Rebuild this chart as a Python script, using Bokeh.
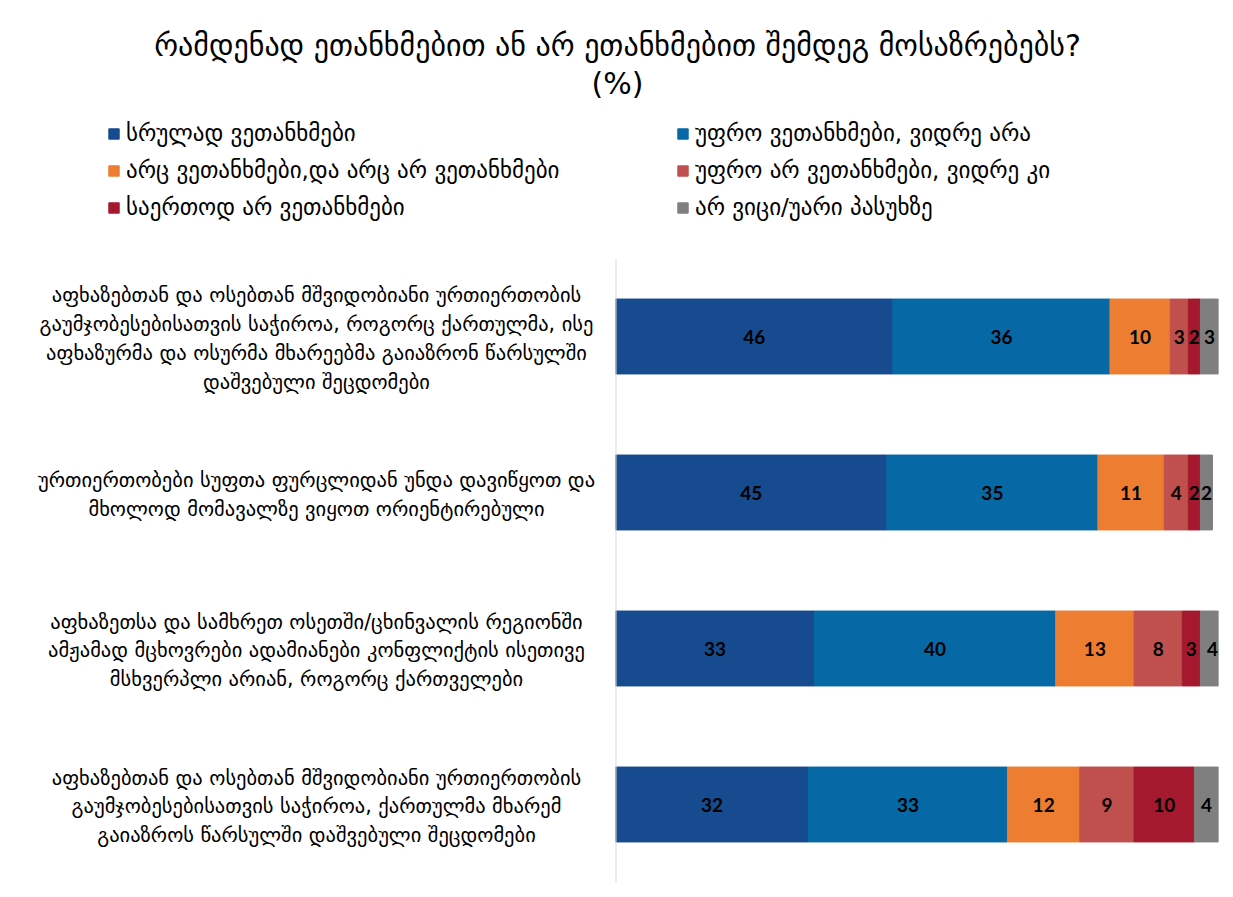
from bokeh.plotting import figure
from bokeh.models import ColumnDataSource, Legend, LegendItem, FactorRange, Range1d, Span
from bokeh.layouts import column, row
from bokeh.core.properties import value
from bokeh.embed import file_html
from bokeh.resources import INLINE
import numpy as np

title_lines = ["რამდენად ეთანხმებით ან არ ეთანხმებით შემდეგ მოსაზრებებს?", "(%)"]

categories = [
    "აფხაზებთან და ოსებთან მშვიდობიანი ურთიერთობის\nგაუმჯობესებისათვის საჭიროა, როგორც ქართულმა, ისე\nაფხაზურმა და ოსურმა მხარეებმა გაიაზრონ წარსულში\nდაშვებული შეცდომები",
    "ურთიერთობები სუფთა ფურცლიდან უნდა დავიწყოთ და\nმხოლოდ მომავალზე ვიყოთ ორიენტირებული",
    "აფხაზეთსა და სამხრეთ ოსეთში/ცხინვალის რეგიონში\nამჟამად მცხოვრები ადამიანები კონფლიქტის ისეთივე\nმსხვერპლი არიან, როგორც ქართველები",
    "აფხაზებთან და ოსებთან მშვიდობიანი ურთიერთობის\nგაუმჯობესებისათვის საჭიროა, ქართულმა მხარემ\nგაიაზროს წარსულში დაშვებული შეცდომები",
]

series_names = [
    "სრულად ვეთანხმები",
    "უფრო ვეთანხმები, ვიდრე არა",
    "არც ვეთანხმები,და არც არ ვეთანხმები",
    "უფრო არ ვეთანხმები, ვიდრე კი",
    "საერთოდ არ ვეთანხმები",
    "არ ვიცი/უარი პასუხზე",
]
colors = ["#174B8F", "#0669A5", "#ED7D31", "#C0504D", "#A5192E", "#7F7F7F"]

s1 = [46, 45, 33, 32]
s2 = [36, 35, 40, 33]
s3 = [10, 11, 13, 12]
s4 = [3, 4, 8, 9]
s5 = [2, 2, 3, 10]
s6 = [3, 2, 4, 4]
series = [s1, s2, s3, s4, s5, s6]
keys = ["s1", "s2", "s3", "s4", "s5", "s6"]

GEO = "DejaVu Sans"
TOTAL_W = 1230
HEAD_H = 258
LEFT_W = 615
BODY_H = 630


def clean(fig):
    fig.outline_line_color = None
    fig.xgrid.visible = False
    fig.ygrid.visible = False
    fig.xaxis.visible = False
    fig.yaxis.visible = False
    return fig


# ---------- bars ----------
data = {"cat": categories}
for k, s in zip(keys, series):
    data[k] = s
src = ColumnDataSource(data)

yr = FactorRange(factors=categories[::-1], range_padding=0)
bars = clean(figure(width=TOTAL_W - LEFT_W, height=BODY_H, output_backend="svg", toolbar_location=None,
                    x_range=Range1d(0, 100), y_range=yr,
                    min_border_left=0, min_border_right=12, min_border_top=0, min_border_bottom=6))
renderers = bars.hbar_stack(keys, y="cat", height=0.48, color=colors, source=src)
bars.add_layout(Span(location=0, dimension="height", line_color="#D9D9D9", line_width=2))

arr = np.array(series, dtype=float)
starts = np.vstack([np.zeros(arr.shape[1]), np.cumsum(arr, axis=0)[:-1]])
for j in range(arr.shape[0]):
    lsrc = ColumnDataSource(dict(x=list(starts[j] + arr[j] / 2), y=categories,
                                 t=[str(int(v)) for v in arr[j]]))
    bars.text(x="x", y="y", text="t", source=lsrc, text_align="center", text_baseline="middle",
              text_font=value("Lato"), text_font_style="bold", text_font_size="19px",
              text_color="#000000")

# ---------- category labels ----------
left = clean(figure(width=LEFT_W, height=BODY_H, output_backend="svg", toolbar_location=None,
                    x_range=Range1d(0, LEFT_W), y_range=yr,
                    min_border_left=0, min_border_right=0, min_border_top=0, min_border_bottom=6))
csrc = ColumnDataSource(dict(x=[316] * len(categories), y=categories, t=categories))
left.text(x="x", y="y", text="t", source=csrc, text_align="center", text_baseline="middle",
          y_offset=2, text_font=value(GEO), text_font_size="20.5px", text_color="#000000",
          text_line_height=1.2)

# ---------- title + legend ----------
head = clean(figure(width=TOTAL_W, height=HEAD_H, output_backend="svg", toolbar_location=None,
                    x_range=Range1d(0, TOTAL_W), y_range=Range1d(HEAD_H, 0),
                    min_border=0))
tsrc = ColumnDataSource(dict(x=[617, 617], y=[45, 83], t=title_lines))
head.text(x="x", y="y", text="t", source=tsrc, text_align="center", text_baseline="middle",
          text_font=value(GEO), text_font_size="30px", text_color="#000000")

# legend swatches: one off-screen rect per series, coloured like the bars
dummy = [head.rect(x=[-500], y=[-500], width=1, height=1, color=c) for c in colors]
order = [0, 2, 4, 1, 3, 5]   # column-major fill -> rows (1,2), (3,4), (5,6)
items = [LegendItem(label=series_names[i], renderers=[dummy[i]]) for i in order]
legend = Legend(items=items, ncols=2, location=(107, 38), orientation="vertical",
                glyph_width=13, glyph_height=13, label_height=22, label_width=539,
                label_standoff=6, spacing=11, padding=0, margin=0,
                border_line_color=None, background_fill_alpha=0,
                label_text_font=GEO, label_text_font_size="23px", label_text_color="#000000")
head.add_layout(legend, "center")

layout = column(head, row(left, bars, spacing=0), spacing=0)
open("out.html", "w").write(file_html(layout, INLINE))
